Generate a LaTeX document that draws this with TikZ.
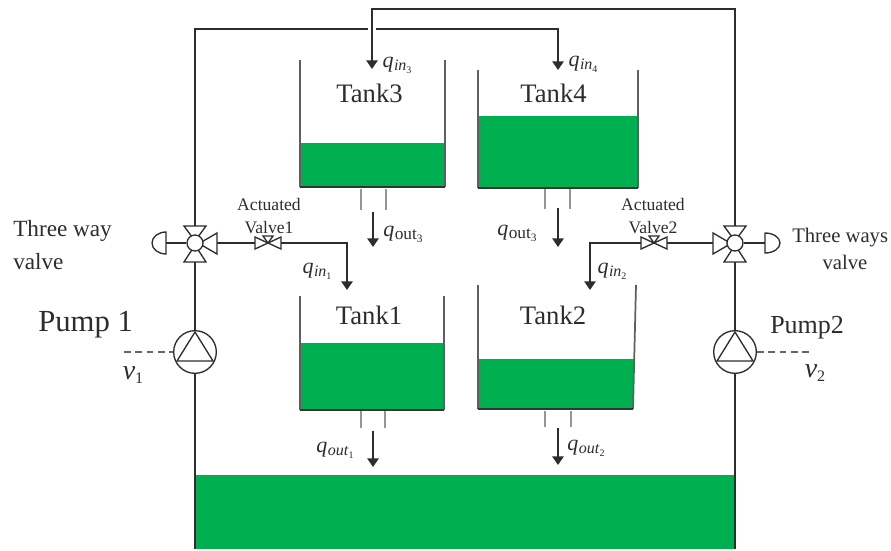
\documentclass[tikz,border=0pt]{standalone}
\usepackage{fontspec}
\setmainfont{Liberation Serif}
\usetikzlibrary{arrows.meta}
\definecolor{tankgreen}{RGB}{0,176,80}
\definecolor{pipegray}{RGB}{45,45,45}
\definecolor{wallgray}{RGB}{95,95,95}
\definecolor{draingray}{RGB}{150,150,150}
\definecolor{txt}{RGB}{45,45,45}
\newcommand{\qit}[2]{\textit{q}\kern.02em\raisebox{-.32ex}{\fontsize{12}{12}\selectfont\textit{#1}\raisebox{-.35ex}{\fontsize{7.5}{7.5}\selectfont #2}}}
\newcommand{\qup}[2]{\textit{q}\kern.02em\raisebox{-.32ex}{\fontsize{13}{13}\selectfont #1\raisebox{-.35ex}{\fontsize{8.5}{8.5}\selectfont #2}}}
\tikzset{
  x=0.75pt,y=-0.75pt,
  pipe/.style={draw=pipegray,line width=1.35pt},
  flow/.style={pipe,-{Triangle[length=6.5pt,width=8.5pt]}},
  wall/.style={draw=wallgray,line width=1.3pt},
  tankbase/.style={draw=black!80,line width=1.2pt},
  drain/.style={draw=draingray,line width=1.1pt},
  liquid/.style={fill=tankgreen,draw=none,inner sep=0pt},
  sym/.style={draw=pipegray,line width=1pt,fill=white},
  tanklabel/.style={font=\fontsize{20}{22}\selectfont,text=txt,inner sep=0pt},
  actlabel/.style={font=\fontsize{13.2}{17}\selectfont,text=txt,inner sep=0pt,align=center},
  sidelabel/.style={font=\fontsize{15.5}{18}\selectfont,text=txt,inner sep=0pt,align=center},
  leftlabel/.style={font=\fontsize{17.4}{18}\selectfont,text=txt,inner sep=0pt,anchor=west},
  flowlabel/.style={font=\fontsize{16.5}{17}\selectfont,text=txt,inner sep=0pt},
  pumpnode/.style={circle,sym,minimum size=32pt,inner sep=0pt},
  hubnode/.style={circle,sym,minimum size=12pt,inner sep=0pt},
  signal/.style={draw=gray!80!black,line width=1pt,dash pattern=on 5pt off 3.5pt},
}
\begin{document}
\begin{tikzpicture}
\useasboundingbox (0,0) rectangle (891,550);
\fill[white] (0,0) rectangle (891,550);

% liquids
\node[liquid,minimum width=405pt,minimum height=55.5pt,anchor=north west] (reservoir) at (195,475) {};
\fill[tankgreen] (300,143) rectangle (445,187);
\fill[tankgreen] (478,116) rectangle (638,188);
\fill[tankgreen] (300,343) rectangle (444,410);
\fill[tankgreen] (478,359) rectangle (634,409);

% tank walls
\draw[wall] (300,60) -- (300,187);
\draw[wall] (445,60) -- (445,187);
\draw[tankbase] (300,187) -- (445,187);
\draw[wall] (478,70) -- (478,188);
\draw[wall] (638,70) -- (638,188);
\draw[tankbase] (478,188) -- (638,188);
\draw[wall] (300,296) -- (300,410);
\draw[wall] (444,296) -- (444,410);
\draw[tankbase] (300,410) -- (444,410);
\draw[wall] (478,285) -- (478,409);
\draw[wall] (636,285) -- (633,409);
\draw[tankbase] (478,409) -- (633,409);

% drains
\draw[drain] (361,189) -- (361,210);
\draw[drain] (386,189) -- (386,210);
\draw[drain] (545,189) -- (545,209);
\draw[drain] (570,189) -- (570,209);
\draw[drain] (361,411) -- (361,428);
\draw[drain] (385,411) -- (385,428);
\draw[drain] (545,411) -- (545,427);
\draw[drain] (571,411) -- (571,427);

% named points
\coordinate (hubL) at (195,243);
\coordinate (hubR) at (735,243);
\coordinate (pumpLc) at (195,352);
\coordinate (pumpRc) at (735,352);
\coordinate (botL) at (195,549);
\coordinate (botR) at (735,549);
\coordinate (topL) at (195,29);
\coordinate (topR) at (735,9);
\coordinate (in3c) at (372,9);
\coordinate (in3) at (372,69);
\coordinate (in4c) at (558,29);
\coordinate (in4) at (558,70);
\coordinate (in1c) at (347,243);
\coordinate (in1) at (347,290);
\coordinate (in2c) at (590,243);
\coordinate (in2) at (590,290);

% pipes
\draw[pipe] (botL) -- (hubL);
\draw[pipe] (botR) -- (hubR);
\draw[flow] (hubL) -- (topL) -- (in4c) -- (in4);
\draw[draw=white,line width=6.5pt] (372,25) -- (372,33);
\draw[flow] (hubR) -- (topR) -- (in3c) -- (in3);
\draw[flow] (hubL) -- (in1c) -- (in1);
\draw[flow] (hubR) -- (in2c) -- (in2);

% three-way valves
\foreach \n/\cx/\s in {L/195/1,R/735/-1}{
  \draw[sym] (\cx-11,226) -- (\cx+11,226) -- (\cx,241) -- cycle;
  \draw[sym] (\cx-11,262) -- (\cx+11,262) -- (\cx,245) -- cycle;
  \draw[sym] (\cx+\s*22,233) -- (\cx+\s*22,254) -- (\cx+\s*4,243.5) -- cycle;
}
\node[hubnode] (hubLn) at (hubL) {};
\node[hubnode] (hubRn) at (hubR) {};
% actuators
\draw[pipe,line width=1pt] (hubLn) -- (166,243);
\draw[pipe,line width=1pt] (hubRn) -- (765,243);
\draw[sym] (166,232) arc[start angle=90,end angle=270,x radius=14,y radius=-11] -- cycle;
\draw[sym] (765,233) arc[start angle=90,end angle=-90,x radius=15,y radius=-10] -- cycle;

% actuated valves
\foreach \vx in {268,654}{
  \draw[sym] (\vx-13,237) -- (\vx-13,249) -- (\vx+13,237) -- (\vx+13,249) -- cycle;
  \draw[sym] (\vx-5,236) -- (\vx+5,236) -- (\vx,243) -- cycle;
}

% pumps
\node[pumpnode] (pumpL) at (pumpLc) {};
\node[pumpnode] (pumpR) at (pumpRc) {};
\draw[sym,fill=none] (195,332) -- (177,361) -- (213,361) -- cycle;
\draw[sym,fill=none] (735,332) -- (717,361) -- (753,361) -- cycle;
\coordinate (sigL) at (124,352);
\coordinate (sigR) at (809,352);
\draw[signal] (sigL) -- (pumpL.west);
\draw[signal] (pumpR.east) -- (sigR);

% outflow arrows
\coordinate (o3a) at (373,212); \coordinate (o3b) at (373,247);
\coordinate (o4a) at (558,208); \coordinate (o4b) at (558,247);
\coordinate (o1a) at (373,431); \coordinate (o1b) at (373,467);
\coordinate (o2a) at (558,428); \coordinate (o2b) at (558,465);
\draw[flow] (o3a) -- (o3b);
\draw[flow] (o4a) -- (o4b);
\draw[flow] (o1a) -- (o1b);
\draw[flow] (o2a) -- (o2b);

% labels
\node[tanklabel] (t3) at (369.5,93) {Tank3};
\node[tanklabel] (t4) at (553.5,93) {Tank4};
\node[tanklabel] (t1) at (369,315) {Tank1};
\node[tanklabel] (t2) at (553,315) {Tank2};
\node[actlabel] (a1) at (269,216) {Actuated\\Valve1};
\node[actlabel] (a2) at (653,216) {Actuated\\Valve2};
\node[leftlabel] (tw1a) at (13,231) {Three way};
\node[leftlabel] (tw1b) at (13,262) {valve};
\node[sidelabel,anchor=west] (tw2a) at (792,238) {Three ways};
\node[sidelabel] (tw2b) at (845,262) {valve};
\node[font=\fontsize{23}{24}\selectfont,text=txt,inner sep=0pt,anchor=west] (p1) at (38,325) {Pump 1};
\node[font=\fontsize{19.5}{21}\selectfont,text=txt,inner sep=0pt,anchor=west] (p2) at (770,328) {Pump2};
\node[font=\fontsize{21}{22}\selectfont,text=txt,inner sep=0pt] (v1) at (133,375) {\textit{v}\raisebox{-.35ex}{\fontsize{12}{12}\selectfont 1}};
\node[font=\fontsize{21}{22}\selectfont,text=txt,inner sep=0pt] (v2) at (815,373) {\textit{v}\raisebox{-.35ex}{\fontsize{12}{12}\selectfont 2}};
\node[flowlabel] (q3) at (397,65) {\qit{in}{3}};
\node[flowlabel] (q4) at (583,64) {\qit{in}{4}};
\node[flowlabel] (q1) at (317,271) {\qit{in}{1}};
\node[flowlabel] (q2) at (612,271) {\qit{in}{2}};
\node[flowlabel] (qo3) at (403,234) {\qup{out}{3}};
\node[flowlabel] (qo4) at (517,233) {\qup{out}{3}};
\node[flowlabel] (qo1) at (335,450) {\qit{out}{1}};
\node[flowlabel] (qo2) at (586,448) {\qit{out}{2}};
\end{tikzpicture}
\end{document}
